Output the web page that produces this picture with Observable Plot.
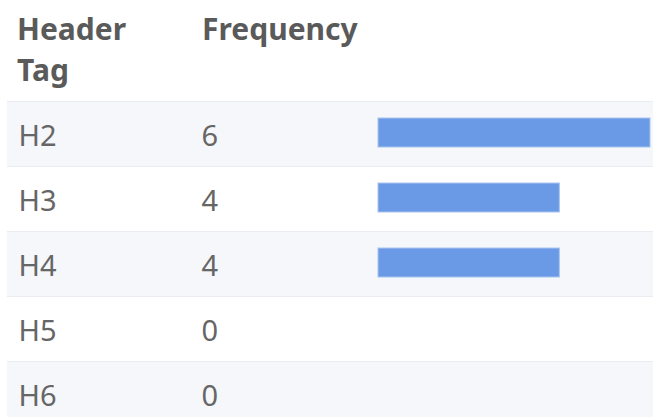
<!DOCTYPE html>
<html>
<head>
<meta charset="utf-8">
<script src="https://cdn.jsdelivr.net/npm/d3@7"></script>
<script src="https://cdn.jsdelivr.net/npm/@observablehq/plot@0.6"></script>
<style>
  html, body { margin: 0; padding: 0; background: #fff; overflow: hidden; width: 653px; height: 417px; }
  #head { position: relative; height: 101px; font-family: "Noto Sans", sans-serif; font-weight: 700; font-size: 30px; line-height: 41px; color: #5a5a5a; }
  #head div { position: absolute; top: 8px; }
  #chart svg { display: block; }
</style>
</head>
<body>
<div id="head"><div id="h1" style="left:17px">Header<br>Tag</div><div id="h2" style="left:202px">Frequency</div></div>
<div id="chart"></div>
<script>
const columns = ["Header Tag", "Frequency"];
const tags = ["H2", "H3", "H4", "H5", "H6"];
const counts = [6, 4, 4, 0, 0];

document.getElementById("h1").innerHTML = columns[0].replace(" ", "<br>");
document.getElementById("h2").textContent = columns[1];

const rows = tags.map((t, i) => ({tag: t, count: counts[i], i}));
const maxCount = d3.max(counts);

const plot = Plot.plot({
  width: 653,
  height: 316,
  marginLeft: 7,
  marginRight: 0,
  marginTop: 0,
  marginBottom: 0,
  x: {domain: [0, maxCount], range: [378, 650], axis: null},
  y: {domain: [0, tags.length], range: [0, 325], axis: null},
  style: {fontFamily: "Noto Sans, sans-serif", background: "#fff", overflow: "hidden"},
  marks: [
    Plot.rect(rows.filter(d => d.i % 2 === 0), {y1: "i", y2: d => d.i + 1, fill: "#f5f7fa"}),
    Plot.ruleY(d3.range(tags.length + 1), {y: d => d, stroke: "#e9edf2", strokeWidth: 1.2}),
    Plot.rect(rows.filter(d => d.count > 0), {x1: 0, x2: "count", y1: "i", y2: d => d.i + 1, insetTop: 17, insetBottom: 19, fill: "#6a9ae6", stroke: "#a9c4ef", strokeWidth: 1}),
    Plot.text(rows, {y: d => d.i + 0.5, text: "tag", frameAnchor: "left", dx: 11, dy: 3, textAnchor: "start", fontSize: 29, fill: "#666"}),
    Plot.text(rows, {y: d => d.i + 0.5, text: d => String(d.count), frameAnchor: "left", dx: 194, dy: 3, textAnchor: "start", fontSize: 29, fill: "#666"})
  ]
});
document.getElementById("chart").appendChild(plot);
</script>
</body>
</html>
